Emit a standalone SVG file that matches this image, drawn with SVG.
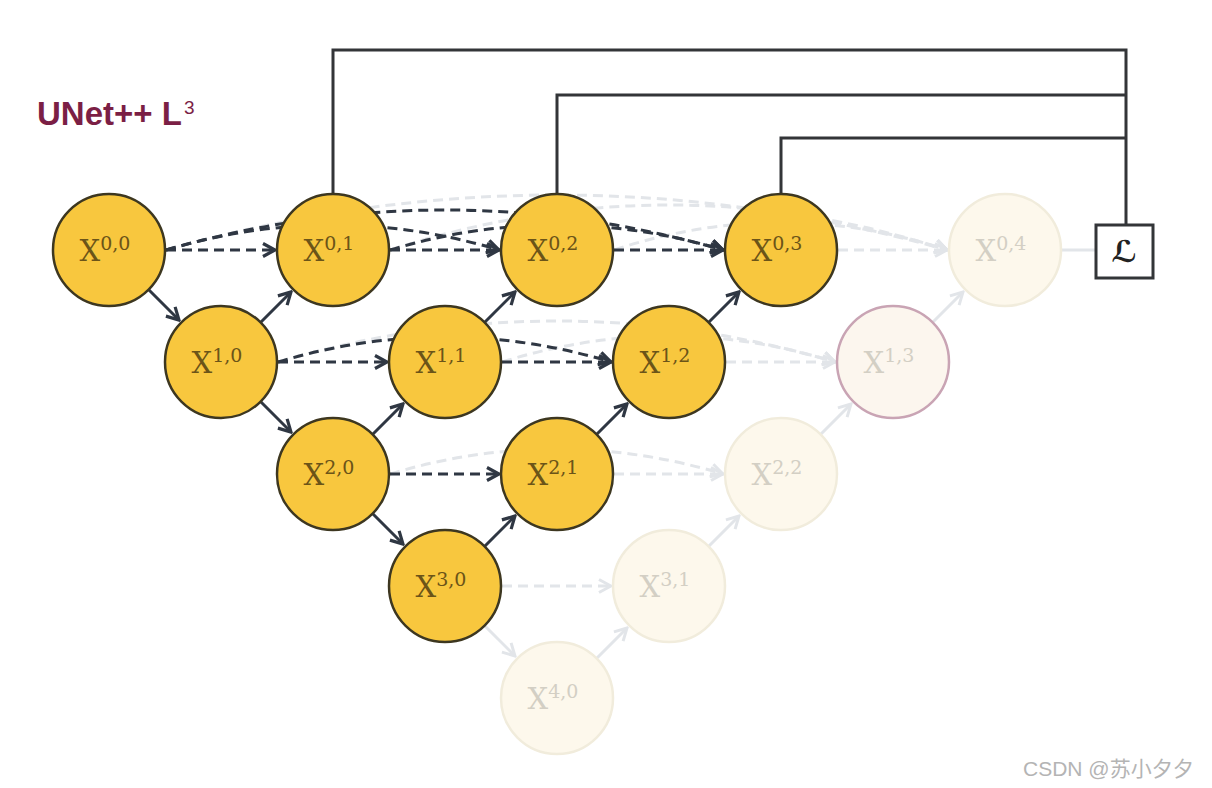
<svg xmlns="http://www.w3.org/2000/svg" width="1212" height="788" viewBox="0 0 1212 788">
<style>
.bg{fill:#ffffff}
.fb{stroke:#333538;stroke-width:3;fill:none}
.ac{stroke:#2f3743;stroke-width:3;fill:none}
.dash{stroke-dasharray:10 6}
.fc{stroke:#e2e5e9;stroke-width:3;fill:none}
.node circle{fill:#f8c73e;stroke:#3d3720;stroke-width:2.5}
.node text{font-family:"DejaVu Serif","Liberation Serif",serif;font-size:29px;fill:#6b5418;text-anchor:middle}
.faded circle{fill:#fdf8ec;stroke:#f1ecdc;stroke-width:2.5}
.faded text{font-family:"DejaVu Serif","Liberation Serif",serif;font-size:29px;fill:#d3cfc4;text-anchor:middle}
.sup{font-size:19px}
.title{font-family:"Liberation Sans",Arial,sans-serif;font-weight:bold;font-size:33px;fill:#7b1f45}
.wm{font-family:"Liberation Sans","Noto Sans CJK SC",sans-serif;font-size:21px;fill:#b4b4b4}
</style>
<defs>
<marker id="ad" viewBox="0 0 16 16" refX="14" refY="8" markerWidth="16" markerHeight="16" markerUnits="userSpaceOnUse" orient="auto">
<path d="M2,1.5 L14,8 L2,14.5" fill="none" stroke="#2f3743" stroke-width="3.2"/>
</marker>
<marker id="af" viewBox="0 0 16 16" refX="14" refY="8" markerWidth="16" markerHeight="16" markerUnits="userSpaceOnUse" orient="auto">
<path d="M2,1.5 L14,8 L2,14.5" fill="none" stroke="#e2e5e9" stroke-width="3"/>
</marker>
</defs>
<rect class="bg" x="0" y="0" width="1212" height="788"/>
<text class="title" x="37" y="125">UNet++ L<tspan font-size="19" font-weight="normal" dx="2" dy="-11">3</tspan></text>
<g id="connectors">
<path class="fc dash" d="M166,250 Q557,140 947,250" marker-end="url(#af)"/>
<path class="fc dash" d="M390,250 Q669,160 947,250" marker-end="url(#af)"/>
<path class="fc dash" d="M614,250 Q781,195 947,250" marker-end="url(#af)"/>
<path class="fc dash" d="M838,250 L947,250" marker-end="url(#af)"/>
<path class="fc dash" d="M278,362 Q557,280 835,362" marker-end="url(#af)"/>
<path class="fc dash" d="M502,362 Q669,310 835,362" marker-end="url(#af)"/>
<path class="fc dash" d="M726,362 L835,362" marker-end="url(#af)"/>
<path class="fc dash" d="M390,474 Q557,424 723,474" marker-end="url(#af)"/>
<path class="fc dash" d="M614,474 L723,474" marker-end="url(#af)"/>
<path class="fc dash" d="M502,586 L611,586" marker-end="url(#af)"/>
<path class="fc" d="M485,626 L515,656" marker-end="url(#af)"/>
<path class="fc" d="M597,658 L627,628" marker-end="url(#af)"/>
<path class="fc" d="M709,546 L739,516" marker-end="url(#af)"/>
<path class="fc" d="M821,434 L851,404" marker-end="url(#af)"/>
<path class="fc" d="M933,322 L963,292" marker-end="url(#af)"/>
<path class="fc" d="M1062,250 L1095,250"/>
<path class="fb" d="M333,195 L333,50 L1126,50 L1126,225"/>
<path class="fb" d="M557,195 L557,95 L1126,95"/>
<path class="fb" d="M781,195 L781,138 L1126,138"/>
<path class="ac dash" d="M166,250 Q333,200 499,250" marker-end="url(#ad)"/>
<path class="ac dash" d="M166,250 Q445,170 723,250" marker-end="url(#ad)"/>
<path class="ac dash" d="M390,250 Q557,200 723,250" marker-end="url(#ad)"/>
<path class="ac dash" d="M278,362 Q445,312 611,362" marker-end="url(#ad)"/>
<path class="ac dash" d="M166,250 L275,250" marker-end="url(#ad)"/>
<path class="ac dash" d="M390,250 L499,250" marker-end="url(#ad)"/>
<path class="ac dash" d="M614,250 L723,250" marker-end="url(#ad)"/>
<path class="ac dash" d="M278,362 L387,362" marker-end="url(#ad)"/>
<path class="ac dash" d="M502,362 L611,362" marker-end="url(#ad)"/>
<path class="ac dash" d="M390,474 L499,474" marker-end="url(#ad)"/>
<path class="ac" d="M149,290 L179,320" marker-end="url(#ad)"/>
<path class="ac" d="M261,402 L291,432" marker-end="url(#ad)"/>
<path class="ac" d="M373,514 L403,544" marker-end="url(#ad)"/>
<path class="ac" d="M261,322 L291,292" marker-end="url(#ad)"/>
<path class="ac" d="M373,434 L403,404" marker-end="url(#ad)"/>
<path class="ac" d="M485,322 L515,292" marker-end="url(#ad)"/>
<path class="ac" d="M485,546 L515,516" marker-end="url(#ad)"/>
<path class="ac" d="M597,434 L627,404" marker-end="url(#ad)"/>
<path class="ac" d="M709,322 L739,292" marker-end="url(#ad)"/>
</g>
<g id="n40" class="faded"><circle cx="557" cy="698" r="56"/><text x="553" y="709">X<tspan class="sup" dy="-11">4,0</tspan></text></g>
<g id="n31" class="faded"><circle cx="669" cy="586" r="56"/><text x="665" y="597">X<tspan class="sup" dy="-11">3,1</tspan></text></g>
<g id="n22" class="faded"><circle cx="781" cy="474" r="56"/><text x="777" y="485">X<tspan class="sup" dy="-11">2,2</tspan></text></g>
<g id="n13" class="faded"><circle cx="893" cy="362" r="56" style="stroke:#c9a4b4;fill:#fcf6ee"/><text x="889" y="373">X<tspan class="sup" dy="-11">1,3</tspan></text></g>
<g id="n04" class="faded"><circle cx="1005" cy="250" r="56"/><text x="1001" y="261">X<tspan class="sup" dy="-11">0,4</tspan></text></g>
<g id="n00" class="node"><circle cx="109" cy="250" r="56"/><text x="105" y="261">X<tspan class="sup" dy="-11">0,0</tspan></text></g>
<g id="n10" class="node"><circle cx="221" cy="362" r="56"/><text x="217" y="373">X<tspan class="sup" dy="-11">1,0</tspan></text></g>
<g id="n20" class="node"><circle cx="333" cy="474" r="56"/><text x="329" y="485">X<tspan class="sup" dy="-11">2,0</tspan></text></g>
<g id="n30" class="node"><circle cx="445" cy="586" r="56"/><text x="441" y="597">X<tspan class="sup" dy="-11">3,0</tspan></text></g>
<g id="n01" class="node"><circle cx="333" cy="250" r="56"/><text x="329" y="261">X<tspan class="sup" dy="-11">0,1</tspan></text></g>
<g id="n11" class="node"><circle cx="445" cy="362" r="56"/><text x="441" y="373">X<tspan class="sup" dy="-11">1,1</tspan></text></g>
<g id="n21" class="node"><circle cx="557" cy="474" r="56"/><text x="553" y="485">X<tspan class="sup" dy="-11">2,1</tspan></text></g>
<g id="n02" class="node"><circle cx="557" cy="250" r="56"/><text x="553" y="261">X<tspan class="sup" dy="-11">0,2</tspan></text></g>
<g id="n12" class="node"><circle cx="669" cy="362" r="56"/><text x="665" y="373">X<tspan class="sup" dy="-11">1,2</tspan></text></g>
<g id="n03" class="node"><circle cx="781" cy="250" r="56"/><text x="777" y="261">X<tspan class="sup" dy="-11">0,3</tspan></text></g>
<g id="loss"><rect x="1096" y="225" width="57" height="53" fill="#ffffff" stroke="#333538" stroke-width="3"/><text x="1124" y="262" font-family="DejaVu Sans,sans-serif" font-size="30" font-weight="bold" font-style="italic" fill="#222" text-anchor="middle">ℒ</text></g>
<text class="wm" x="1023" y="776">CSDN @苏小夕夕</text>
</svg>
